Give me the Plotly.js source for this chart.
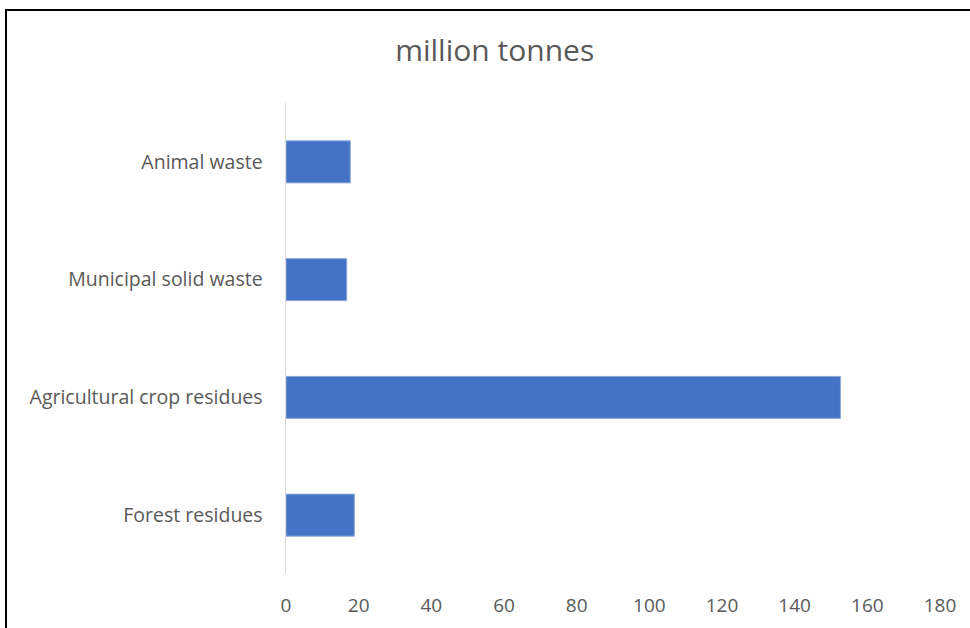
<!DOCTYPE html>
<html>
<head>
<meta charset="utf-8">
<script src="https://cdn.plot.ly/plotly-3.0.1.min.js"></script>
<style>
  html, body { margin: 0; padding: 0; background: #ffffff; }
  #wrap { position: relative; width: 970px; height: 628px; overflow: hidden; }
  #chart { width: 970px; height: 628px; }
  #frame { position: absolute; left: 5px; top: 9px; width: 1000px; height: 700px;
           border: 2px solid #000; box-sizing: border-box; pointer-events: none; }
</style>
</head>
<body>
<div id="wrap">
  <div id="chart"></div>
  <div id="frame"></div>
</div>
<script>
const categories = ['Forest residues', 'Agricultural crop residues', 'Municipal solid waste', 'Animal waste'];
const values = [18.8, 152.6, 16.7, 17.7];
const xTicks = [0, 20, 40, 60, 80, 100, 120, 140, 160, 180];

const fontFam = 'Open Sans, Noto Sans, sans-serif';
const trace = {
  type: 'bar',
  orientation: 'h',
  y: categories,
  x: values,
  marker: { color: '#4472C4', line: { color: '#8FAADC', width: 1 } },
  hoverinfo: 'x+y'
};

const layout = {
  width: 970,
  height: 628,
  margin: { l: 285.5, r: 30, t: 103, b: 54 },
  paper_bgcolor: '#ffffff',
  plot_bgcolor: '#ffffff',
  showlegend: false,
  bargap: 0.643,
  title: {
    text: 'million tonnes',
    font: { family: fontFam, size: 30, color: '#595959' },
    x: 0.51, xanchor: 'center', xref: 'container',
    y: 1 - 50 / 628, yanchor: 'middle', yref: 'container'
  },
  xaxis: {
    range: [0, 180],
    tickvals: xTicks,
    ticktext: xTicks.map(String),
    showgrid: false,
    zeroline: false,
    showline: false,
    ticks: 'outside',
    ticklen: 14,
    tickcolor: 'rgba(0,0,0,0)',
    tickfont: { family: fontFam, size: 19, color: '#595959' },
    fixedrange: true
  },
  yaxis: {
    type: 'category',
    categoryorder: 'array',
    categoryarray: categories,
    showgrid: false,
    zeroline: false,
    showline: true,
    linecolor: '#D9D9D9',
    linewidth: 1.5,
    ticks: 'outside',
    ticklen: 18,
    tickcolor: 'rgba(0,0,0,0)',
    tickfont: { family: fontFam, size: 19.5, color: '#595959' },
    fixedrange: true
  }
};

Plotly.newPlot('chart', [trace], layout, { displayModeBar: false, staticPlot: true });
</script>
</body>
</html>
